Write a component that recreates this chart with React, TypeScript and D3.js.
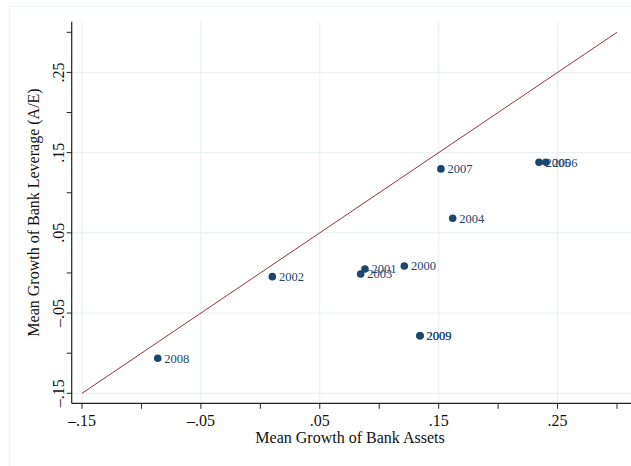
import React from "react";
import * as d3 from "d3";

const years = ["2000", "2001", "2002", "2003", "2004", "2005", "2006", "2007", "2008", "2009", "2009"];
const assetGrowth = [0.1211, 0.088, 0.0101, 0.0844, 0.1618, 0.2344, 0.2402, 0.1519, -0.0863, 0.1343, 0.1343];
const leverageGrowth = [0.0087, 0.005, -0.0046, -0.0012, 0.0682, 0.138, 0.138, 0.1297, -0.1064, -0.0782, -0.0782];
const labeledTicks = [-0.15, -0.05, 0.05, 0.15, 0.25];
const allTicks = [-0.15, -0.1, -0.05, 0, 0.05, 0.1, 0.15, 0.2, 0.25, 0.3];
const diagonal = [-0.15, 0.3];

const W = 631;
const H = 466;
const navy = "#1a476f";
const maroon = "#90353b";
const grid = "#e6eff0";
const font = "'Liberation Serif', 'Times New Roman', serif";

const fmt = (v: number) => {
  const s = Math.abs(v).toFixed(2).replace(/^0/, "");
  return v < 0 ? "\u2013" + s : s;
};

export default function App() {
  const x = d3.scaleLinear().domain([-0.15, 0.3]).range([82, 617]);
  const y = d3.scaleLinear().domain([-0.15, 0.3]).range([393.3, 32.3]);
  const axisX = 71.7;
  const axisY = 403.3;
  const plotTop = 21.7;
  const plotRight = 640;
  const line = d3
    .line<number>()
    .x((d) => x(d))
    .y((d) => y(d));

  return (
    <svg
      width={W}
      height={H}
      style={{ position: "absolute", left: 0, top: 0, display: "block", background: "#fff" }}
      fontFamily={font}
    >
      <rect x={9.5} y={6.5} width={700} height={600} fill="#fff" stroke="#eef3f3" strokeWidth={1} />
      {/* gridlines */}
      {labeledTicks.map((t) => (
        <line key={"gx" + t} x1={x(t)} x2={x(t)} y1={plotTop} y2={axisY} stroke={grid} strokeWidth={1} />
      ))}
      {labeledTicks.map((t) => (
        <line key={"gy" + t} x1={axisX} x2={plotRight} y1={y(t)} y2={y(t)} stroke={grid} strokeWidth={1} />
      ))}
      {/* diagonal */}
      <path d={line(diagonal) || ""} fill="none" stroke={maroon} strokeWidth={1} />
      {/* points */}
      {years.map((yr, i) => (
        <g key={yr + i}>
          <circle cx={x(assetGrowth[i])} cy={y(leverageGrowth[i])} r={3.8} fill={navy} />
          <text
            x={x(assetGrowth[i]) + 6.6}
            y={y(leverageGrowth[i]) + 4.3}
            fontSize={12.5}
            fill={navy}
          >
            {yr}
          </text>
        </g>
      ))}
      {/* axes */}
      <line x1={axisX} x2={axisX} y1={plotTop} y2={axisY} stroke="#222" strokeWidth={1.2} />
      <line x1={axisX} x2={plotRight} y1={axisY} y2={axisY} stroke="#222" strokeWidth={1.2} />
      {allTicks.map((t) => (
        <line key={"tx" + t} x1={x(t)} x2={x(t)} y1={axisY} y2={axisY + 5.5} stroke="#222" strokeWidth={1} />
      ))}
      {allTicks.map((t) => (
        <line key={"ty" + t} x1={axisX - 5} x2={axisX} y1={y(t)} y2={y(t)} stroke="#222" strokeWidth={1} />
      ))}
      {labeledTicks.map((t) => (
        <text key={"lx" + t} x={x(t)} y={426} textAnchor="middle" fontSize={16} fill="#111">
          {fmt(t)}
        </text>
      ))}
      {labeledTicks.map((t) => (
        <text
          key={"ly" + t}
          transform={`translate(63.5,${y(t)}) rotate(-90)`}
          textAnchor="middle"
          fontSize={16}
          fill="#111"
        >
          {fmt(t)}
        </text>
      ))}
      <text x={350} y={443} textAnchor="middle" fontSize={16} fill="#111">
        Mean Growth of Bank Assets
      </text>
      <text transform={`translate(39,212.5) rotate(-90)`} textAnchor="middle" fontSize={16} fill="#111">
        Mean Growth of Bank Leverage (A/E)
      </text>
    </svg>
  );
}
